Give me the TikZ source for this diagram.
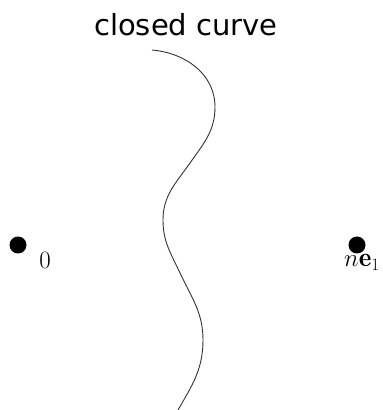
\documentclass[tikz,border=0pt]{standalone}
\usepackage{fontspec}
\newfontfamily\titlefont{DejaVu Sans}
\usepackage{amsmath}
\begin{document}
\begin{tikzpicture}[x=1pt,y=1pt,
  dot/.style={circle,fill=black,inner sep=0pt,minimum size=17pt},
  lbl/.style={inner sep=0pt,font=\fontsize{27}{31}\selectfont},
  curveline/.style={line width=0.9pt,draw=black!80}]
\useasboundingbox (0,0) rectangle (383,410);
\node[inner sep=0pt,font=\titlefont\fontsize{29}{33}\selectfont] (title) at (186,385) {closed curve};
\node[dot] (p0) at (18,165) {};
\node[dot] (pn) at (357,165) {};
\node[lbl,anchor=base] (l0) at (45,141) {$0$};
\node[lbl,anchor=base] (ln) at (362,143) {$n\mathbf{e}_1$};
\coordinate (A) at (152,360);
\coordinate (B) at (215,303);
\coordinate (C) at (190,247);
\coordinate (D) at (163,190);
\coordinate (E) at (180,137);
\coordinate (F) at (203,70);
\coordinate (G) at (178,0);
\draw[curveline] (A) to[out=-5,in=90] (B) to[out=-90,in=55] (C) to[out=-125,in=90] (D)
  to[out=-90,in=115] (E) to[out=-65,in=90] (F) to[out=-90,in=60] (G);
\end{tikzpicture}
\end{document}
